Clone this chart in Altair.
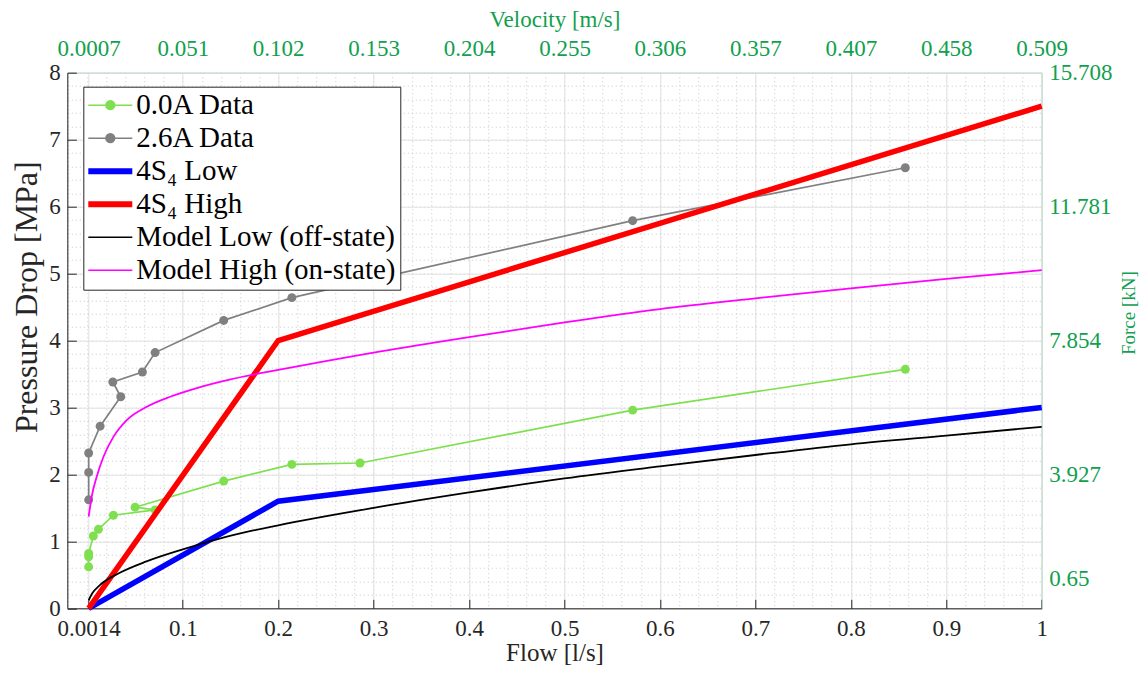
import altair as alt
import pandas as pd

# ---------------- data ----------------
series_names = ["0.0A Data", "2.6A Data", "4S\u2084 Low", "4S\u2084 High",
                "Model Low (off-state)", "Model High (on-state)"]
series_colors = ["#7fe04f", "#808080", "#0000ff", "#ff0000", "#000000", "#ff00ff"]

flow_00 = [0.0014, 0.0014, 0.0014, 0.0063, 0.0116, 0.0273, 0.071, 0.050,
           0.1429, 0.2143, 0.2857, 0.5714, 0.8571]
p_00 = [0.62, 0.77, 0.82, 1.08, 1.18, 1.39, 1.47, 1.51, 1.90, 2.15, 2.17, 2.96, 3.57]

flow_26 = [0.0014, 0.0014, 0.0014, 0.0134, 0.035, 0.0267, 0.0577, 0.071,
           0.1429, 0.2143, 0.5714, 0.8571]
p_26 = [1.62, 2.03, 2.32, 2.72, 3.16, 3.38, 3.53, 3.82, 4.30, 4.64, 5.79, 6.58]

flow_4s4 = [0.0014, 0.2, 1.0]
p_4s4_low = [0.0, 1.6, 3.0]
p_4s4_high = [0.0, 4.0, 7.5]

flow_model_low = [0.0014, 0.005, 0.0134, 0.034, 0.062, 0.1, 0.133, 0.167, 0.2,
                  0.3, 0.4, 0.5, 0.6, 0.7, 0.8, 0.9, 1.0]
p_model_low = [0.12, 0.22, 0.35, 0.53, 0.70, 0.88, 1.02, 1.14, 1.24,
               1.50, 1.73, 1.94, 2.12, 2.29, 2.45, 2.58, 2.71]

flow_model_high = [0.0014, 0.0046, 0.0099, 0.0168, 0.0273, 0.0413, 0.0623, 0.0867,
                   0.1147, 0.15, 0.2, 0.3, 0.4, 0.5, 0.6, 0.7, 0.8, 0.9, 1.0]
p_model_high = [1.37, 1.67, 1.97, 2.26, 2.56, 2.81, 3.01, 3.16, 3.29, 3.42,
                3.56, 3.82, 4.05, 4.27, 4.47, 4.63, 4.78, 4.92, 5.05]

flow_ticks = [0.0014, 0.1, 0.2, 0.3, 0.4, 0.5, 0.6, 0.7, 0.8, 0.9, 1.0]
flow_tick_labels = ["0.0014", "0.1", "0.2", "0.3", "0.4", "0.5", "0.6", "0.7",
                    "0.8", "0.9", "1"]
velocity_tick_labels = ["0.0007", "0.051", "0.102", "0.153", "0.204", "0.255",
                        "0.306", "0.357", "0.407", "0.458", "0.509"]
pressure_ticks = [0, 1, 2, 3, 4, 5, 6, 7, 8]
pressure_tick_labels = ["0", "1", "2", "3", "4", "5", "6", "7", "8"]
force_tick_pos = [0.438, 2, 4, 6, 8]
force_tick_labels = ["0.65", "3.927", "7.854", "11.781", "15.708"]

flow_minor = [round(-0.02 + 0.02 * i, 2) for i in range(52)]
pressure_minor = [round(0.2 * i, 1) for i in range(41)]

# ---------------- table ----------------
rows = []
def add(name, flows, ps):
    for i, (f, p) in enumerate(zip(flows, ps)):
        rows.append({"series": name, "flow": f, "p": p, "idx": i})

add(series_names[0], flow_00, p_00)
add(series_names[1], flow_26, p_26)
add(series_names[2], flow_4s4, p_4s4_low)
add(series_names[3], flow_4s4, p_4s4_high)
add(series_names[4], flow_model_low, p_model_low)
add(series_names[5], flow_model_high, p_model_high)
df = pd.DataFrame(rows)

# ---------------- styling ----------------
FONT = "Liberation Serif"
DARK = "#262626"
GREEN = "#10a04e"
PALE = "#bfe0cc"
X_MIN = -0.021
W, H = 974.4, 535.6

x_scale = alt.Scale(domain=[X_MIN, 1.0], nice=False, zero=False)
y_scale = alt.Scale(domain=[0, 8], nice=False, zero=False)
col_scale = alt.Scale(domain=series_names, range=series_colors)


def lab_expr(vals, labs):
    v = ",".join(repr(float(a)) for a in vals)
    l = ",".join("'" + s + "'" for s in labs)
    return f"[{l}][indexof([{v}], datum.value)]"


def circ(r):
    return f"M{r},0A{r},{r},0,1,1,{-r},0A{r},{r},0,1,1,{r},0"

DOT_PATH = "M-1,0H1" + circ(0.2) + circ(0.14) + circ(0.08) + circ(0.03)
THICK_PATH = "M-1,-0.1H1M-1,-0.05H1M-1,0H1M-1,0.05H1M-1,0.1H1"
THIN_PATH = "M-1,0H1"
sym_expr = (f"(datum.value == '{series_names[0]}' || datum.value == '{series_names[1]}') ? '{DOT_PATH}' : "
            f"(indexof(datum.value, '4S') == 0 ? '{THICK_PATH}' : '{THIN_PATH}')")

legend = alt.Legend(
    title=None, orient="none", legendX=16, legendY=14, direction="vertical",
    symbolType=alt.ExprRef(expr=sym_expr), symbolSize=1936, symbolStrokeWidth=1.5,
    labelFont=FONT, labelFontSize=29, labelColor="#000000", labelOffset=3,
    labelLimit=500, padding=4, rowPadding=3, clipHeight=29,
    strokeColor=DARK, fillColor="#ffffff", cornerRadius=0,
)

x_none = alt.X("flow:Q", scale=x_scale, axis=None)
y_none = alt.Y("p:Q", scale=y_scale, axis=None)
color_legend = alt.Color("series:N", scale=col_scale, legend=legend)
color_plain = alt.Color("series:N", scale=col_scale, legend=None)

base = alt.Chart(df)

def only(names):
    return alt.FieldOneOfPredicate(field="series", oneOf=names)

data_lines = base.transform_filter(only(series_names[:2])).mark_line(strokeWidth=1.7).encode(
    x=x_none, y=y_none, color=color_legend, order=alt.Order("idx:Q"))
points = base.transform_filter(only(series_names[:2])).mark_circle(size=80, opacity=1).encode(
    x=x_none, y=y_none, color=color_plain)
thick_lines = base.transform_filter(only(series_names[2:4])).mark_line(strokeWidth=5.5).encode(
    x=x_none, y=y_none, color=color_plain, order=alt.Order("idx:Q"))
model_lines = base.transform_filter(only(series_names[4:])).mark_line(
    strokeWidth=1.8, interpolate="monotone").encode(
    x=x_none, y=y_none, color=color_plain, order=alt.Order("idx:Q"))

ghost = base.mark_point(opacity=0, size=1)

# minor dotted grid
ax_minor = ghost.encode(
    x=alt.X("flow:Q", scale=x_scale, axis=alt.Axis(
        orient="bottom", values=flow_minor, grid=True, gridColor="#c8c8c8", gridDash=[1, 3],
        gridWidth=1, labels=False, ticks=False, domain=False, title=None)),
    y=alt.Y("p:Q", scale=y_scale, axis=alt.Axis(
        orient="left", values=pressure_minor, grid=True, gridColor="#c8c8c8", gridDash=[1, 3],
        gridWidth=1, labels=False, ticks=False, domain=False, title=None)),
)

# major grid, labels, titles (bottom / left)
ax_major = ghost.encode(
    x=alt.X("flow:Q", scale=x_scale, axis=alt.Axis(
        orient="bottom", values=flow_ticks, labelExpr=lab_expr(flow_ticks, flow_tick_labels),
        grid=True, gridColor="#e2e2e2", gridWidth=1, ticks=False,
        domain=True, domainColor=DARK, domainWidth=1,
        labelFont=FONT, labelFontSize=23, labelColor=DARK, labelPadding=9,
        labelFlush=False, labelOverlap=False,
        title="Flow [l/s]", titleFont=FONT, titleFontSize=25, titleFontWeight="normal",
        titleColor=DARK, titleBaseline="middle", titleAlign="center",
        titleX=W / 2, titleY=44.5)),
    y=alt.Y("p:Q", scale=y_scale, axis=alt.Axis(
        orient="left", values=pressure_ticks, labelExpr=lab_expr(pressure_ticks, pressure_tick_labels),
        grid=True, gridColor="#e2e2e2", gridWidth=1, ticks=False,
        domain=True, domainColor=DARK, domainWidth=1,
        labelFont=FONT, labelFontSize=23, labelColor=DARK, labelPadding=7,
        labelFlush=False, labelOverlap=False,
        title="Pressure Drop [MPa]", titleFont=FONT, titleFontSize=32, titleFontWeight="normal",
        titleColor=DARK, titleAngle=270, titleBaseline="middle", titleAlign="center",
        titleX=-41, titleY=224)),
)

# inward tick marks (bottom / left)
ax_ticks = ghost.encode(
    x=alt.X("flow:Q", scale=x_scale, axis=alt.Axis(
        orient="bottom", values=flow_ticks, offset=-9, ticks=True, tickSize=9,
        tickColor=DARK, tickWidth=1, labels=False, domain=False, grid=False, title=None)),
    y=alt.Y("p:Q", scale=y_scale, axis=alt.Axis(
        orient="left", values=pressure_ticks, offset=-9, ticks=True, tickSize=9,
        tickColor=DARK, tickWidth=1, labels=False, domain=False, grid=False, title=None)),
)

# secondary axes (top velocity / right force)
ax_second = ghost.encode(
    x=alt.X("flow:Q", scale=x_scale, axis=alt.Axis(
        orient="top", values=flow_ticks, labelExpr=lab_expr(flow_ticks, velocity_tick_labels),
        grid=False, ticks=False, domain=True, domainColor=PALE, domainWidth=1,
        labelFont=FONT, labelFontSize=23, labelColor=GREEN, labelPadding=12,
        labelFlush=False, labelOverlap=False,
        title="Velocity [m/s]", titleFont=FONT, titleFontSize=23, titleFontWeight="normal",
        titleColor=GREEN, titleBaseline="middle", titleAlign="center",
        titleX=W / 2, titleY=-53)),
    y=alt.Y("p:Q", scale=y_scale, axis=alt.Axis(
        orient="right", values=force_tick_pos, labelExpr=lab_expr(force_tick_pos, force_tick_labels),
        grid=False, ticks=False, domain=True, domainColor=PALE, domainWidth=1,
        labelFont=FONT, labelFontSize=23, labelColor=GREEN, labelPadding=7,
        labelFlush=False, labelOverlap=False,
        title="Force [kN]", titleFont=FONT, titleFontSize=19, titleFontWeight="normal",
        titleColor=GREEN, titleAngle=270, titleBaseline="middle", titleAlign="center",
        titleX=87, titleY=240)),
)

chart = alt.layer(
    ax_minor, ax_major, ax_ticks, ax_second, data_lines, points, thick_lines, model_lines
).resolve_axis(x="independent", y="independent").properties(
    width=W, height=H,
    padding={"left": 59.3, "top": 64.7, "right": 98, "bottom": 60.7},
    autosize=alt.AutoSizeParams(type="none"),
).configure_view(stroke=None).configure(font=FONT)

chart.save("out.html", embed_options={"renderer": "svg", "actions": False})
